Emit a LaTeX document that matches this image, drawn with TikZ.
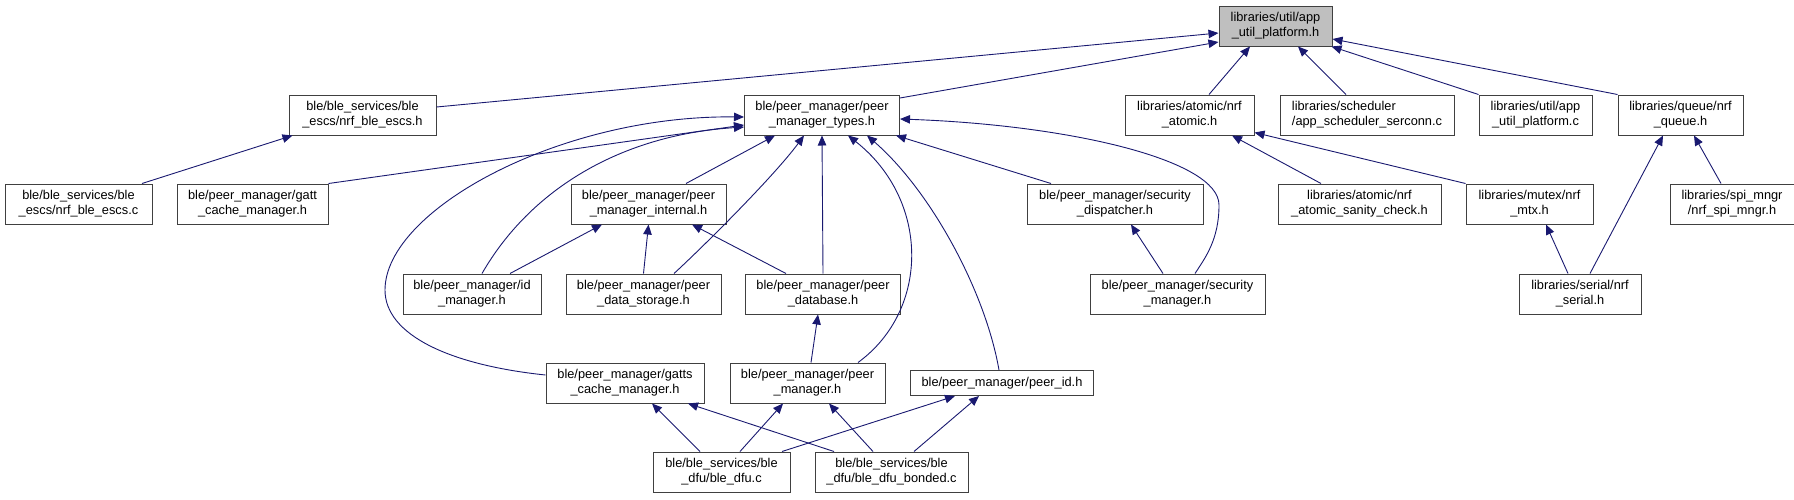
\documentclass[tikz,border=0pt]{standalone}
\usepackage{fontspec}
\setmainfont{Liberation Sans}
\usetikzlibrary{arrows.meta,positioning}
\definecolor{edgeblue}{RGB}{25,25,112}
\definecolor{rootgray}{RGB}{191,191,191}

\begin{document}
\begin{tikzpicture}[x=1pt,y=-1pt,font=\fontsize{12.8}{15}\selectfont, box/.style={draw=black!75,line width=1pt,fill=white,align=center,inner sep=0pt,minimum height=40pt}, arr/.style={-{Triangle[length=10pt,width=8.5pt]},edgeblue,line width=0.9pt}]
\useasboundingbox (0,0) rectangle (1794,499);
\node[box,fill=rootgray,minimum width=113pt] (plat) at (1275.5,26) {libraries/util/app\\\_util\_platform.h};
\node[box,minimum width=147pt] (escsh) at (362.5,115) {ble/ble\_services/ble\\\_escs/nrf\_ble\_escs.h};
\node[box,minimum width=155pt,right=307.5pt of escsh] (pmtypes) {ble/peer\_manager/peer\\\_manager\_types.h};
\node[box,minimum width=129pt,right=224.5pt of pmtypes] (atomic) {libraries/atomic/nrf\\\_atomic.h};
\node[box,minimum width=174pt,right=25pt of atomic,align=left] (sched) {libraries/scheduler\\/app\_scheduler\_serconn.c};
\node[box,minimum width=113pt,right=24pt of sched] (platc) {libraries/util/app\\\_util\_platform.c};
\node[box,minimum width=125pt,right=25pt of platc] (queue) {libraries/queue/nrf\\\_queue.h};
\node[box,minimum width=147pt] (escsc) at (78.5,204) {ble/ble\_services/ble\\\_escs/nrf\_ble\_escs.c};
\node[box,minimum width=151pt,right=24pt of escsc] (gattcm) {ble/peer\_manager/gatt\\\_cache\_manager.h};
\node[box,minimum width=155pt,right=242pt of gattcm] (pmint) {ble/peer\_manager/peer\\\_manager\_internal.h};
\node[box,minimum width=176pt,right=300pt of pmint] (secdisp) {ble/peer\_manager/security\\\_dispatcher.h};
\node[box,minimum width=163pt,right=74pt of secdisp] (sanity) {libraries/atomic/nrf\\\_atomic\_sanity\_check.h};
\node[box,minimum width=127pt,right=24pt of sanity] (mtx) {libraries/mutex/nrf\\\_mtx.h};
\node[box,minimum width=124pt,right=76pt of mtx] (spi) {libraries/spi\_mngr\\/nrf\_spi\_mngr.h};
\node[box,minimum width=138pt] (idmgr) at (472,294) {ble/peer\_manager/id\\\_manager.h};
\node[box,minimum width=155pt,right=24pt of idmgr] (pds) {ble/peer\_manager/peer\\\_data\_storage.h};
\node[box,minimum width=155pt,right=23.5pt of pds] (pdb) {ble/peer\_manager/peer\\\_database.h};
\node[box,minimum width=175pt,right=188.5pt of pdb] (secmgr) {ble/peer\_manager/security\\\_manager.h};
\node[box,minimum width=122pt,right=253pt of secmgr] (serial) {libraries/serial/nrf\\\_serial.h};
\node[box,minimum width=158pt] (gattscm) at (625,383) {ble/peer\_manager/gatts\\\_cache\_manager.h};
\node[box,minimum width=155pt,right=25pt of gattscm] (pm) {ble/peer\_manager/peer\\\_manager.h};
\node[box,minimum width=183pt,minimum height=25pt,right=24.5pt of pm] (peerid) {ble/peer\_manager/peer\_id.h};
\node[box,minimum width=137pt] (dfu) at (721.5,472) {ble/ble\_services/ble\\\_dfu/ble\_dfu.c};
\node[box,minimum width=153pt,right=24pt of dfu] (dfub) {ble/ble\_services/ble\\\_dfu/ble\_dfu\_bonded.c};
\draw[arr] ([yshift=8pt]escsh.east) -- ([yshift=-7pt]plat.west);
\draw[arr] ([yshift=17pt]pmtypes.east) -- ([yshift=-16pt]plat.west);
\draw[arr] ([xshift=19.5pt]atomic.north) -- ([xshift=-25.5pt]plat.south);
\draw[arr] ([xshift=-21pt]sched.north) -- ([xshift=22.5pt]plat.south);
\draw[arr] (platc.north west) -- ([xshift=-1pt]plat.south east);
\draw[arr] (queue.north west) -- ([yshift=-13pt]plat.east);
\draw[arr] ([xshift=63.5pt]escsc.north) -- ([xshift=4pt]escsh.south west);
\draw[arr] (gattcm.north east) -- ([yshift=-10pt]pmtypes.west);
\draw[arr] ([xshift=10pt]idmgr.north) .. controls (530,190) and (620,135) .. ([yshift=-12pt]pmtypes.west);
\draw[arr] ([yshift=8pt]gattscm.west) .. controls (450,365) and (385,335) .. (385,290) .. controls (385,210) and (560,115) .. ([yshift=-2pt]pmtypes.west);
\draw[arr] ([xshift=37.5pt]pmint.north) -- ([xshift=-47pt]pmtypes.south);
\draw[arr] ([xshift=30.5pt]pds.north) .. controls (705,245) and (775,175) .. ([xshift=-18pt]pmtypes.south);
\draw[arr] (pdb.north) -- (pmtypes.south);
\draw[arr] ([xshift=50.5pt]pm.north) .. controls (930,310) and (930,200) .. ([xshift=26pt]pmtypes.south);
\draw[arr] ([xshift=-3pt]peerid.north) .. controls (985,290) and (930,190) .. ([xshift=45pt]pmtypes.south);
\draw[arr] ([xshift=-64pt]secdisp.north) -- ([xshift=-4pt]pmtypes.south east);
\draw[arr] ([xshift=17.5pt]secmgr.north) .. controls (1205,258) and (1219,240) .. (1219,205) .. controls (1219,160) and (1070,125) .. ([yshift=-4pt]pmtypes.east);
\draw[arr] ([xshift=38pt]idmgr.north) -- ([xshift=-46.5pt]pmint.south);
\draw[arr] (pds.north) -- (pmint.south);
\draw[arr] ([xshift=-37pt]pdb.north) -- ([xshift=43.5pt]pmint.south);
\draw[arr] ([xshift=-14.5pt]secmgr.north) -- ([xshift=16pt]secdisp.south);
\draw[arr] ([xshift=3.5pt]pm.north) -- ([xshift=-5pt]pdb.south);
\draw[arr] ([xshift=-21.5pt]dfu.north) -- ([xshift=27pt]gattscm.south);
\draw[arr] ([xshift=-57.5pt]dfub.north) -- ([xshift=63pt]gattscm.south);
\draw[arr] ([xshift=18.5pt]dfu.north) -- ([xshift=-24.5pt]pm.south);
\draw[arr] ([xshift=-18.5pt]dfub.north) -- ([xshift=21.5pt]pm.south);
\draw[arr] ([xshift=60.5pt]dfu.north) -- ([xshift=-47pt]peerid.south);
\draw[arr] ([xshift=22.5pt]dfub.north) -- ([xshift=-23pt]peerid.south);
\draw[arr] ([xshift=-38.5pt]sanity.north) -- ([xshift=42.5pt]atomic.south);
\draw[arr] (mtx.north west) -- ([yshift=3pt]atomic.south east);
\draw[arr] ([xshift=-12pt]serial.north) -- ([xshift=16.5pt]mtx.south);
\draw[arr] ([xshift=10pt]serial.north) -- ([xshift=-17.5pt]queue.south);
\draw[arr] ([xshift=-11pt]spi.north) -- ([xshift=13.5pt]queue.south);
\end{tikzpicture}
\end{document}
